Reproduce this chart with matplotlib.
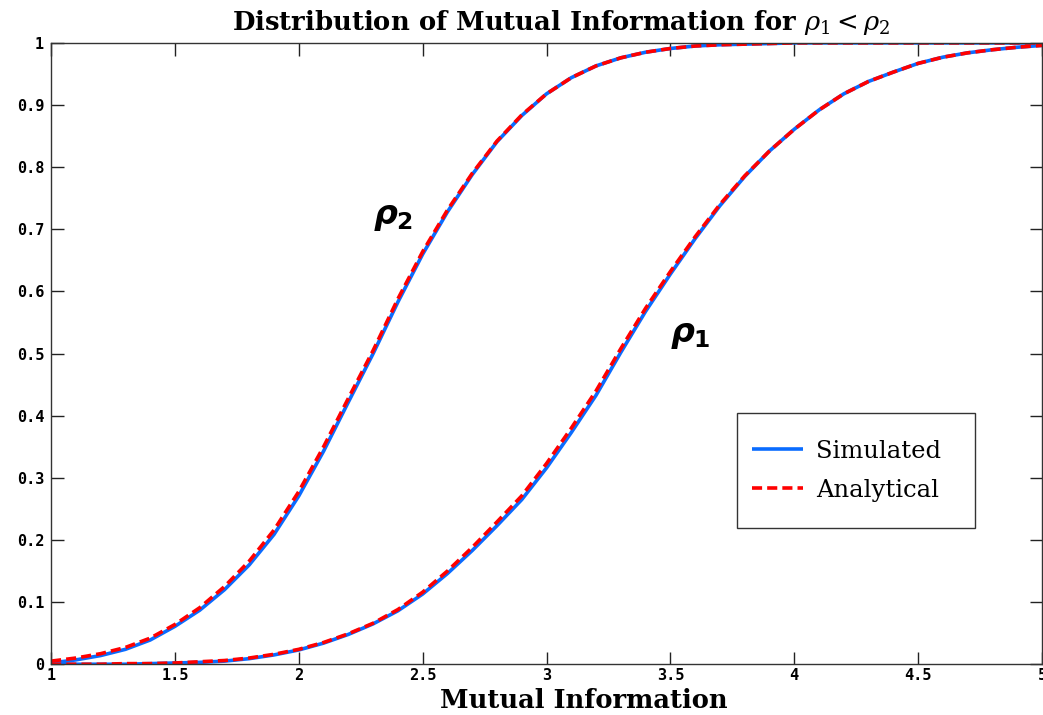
import matplotlib
matplotlib.use("Agg")
import matplotlib.pyplot as plt
from matplotlib.patches import Rectangle

plt.rcParams['mathtext.fontset'] = 'custom'
plt.rcParams['mathtext.it'] = 'DejaVu Sans:italic:bold'
plt.rcParams['mathtext.rm'] = 'DejaVu Sans:bold'
plt.rcParams['mathtext.bf'] = 'DejaVu Sans:bold'

# ---- data ----
mi = [1.0, 1.1, 1.2, 1.3, 1.4, 1.5, 1.6, 1.7, 1.8, 1.9,
      2.0, 2.1, 2.2, 2.3, 2.4, 2.5, 2.6, 2.7, 2.8, 2.9,
      3.0, 3.1, 3.2, 3.3, 3.4, 3.5, 3.6, 3.7, 3.8, 3.9,
      4.0, 4.1, 4.2, 4.3, 4.4, 4.5, 4.6, 4.7, 4.8, 4.9, 5.0]

rho2_analytical = [0.005, 0.010, 0.017, 0.027, 0.042, 0.064, 0.091, 0.125, 0.166, 0.216,
                   0.278, 0.350, 0.428, 0.505, 0.588, 0.664, 0.731, 0.790, 0.842, 0.884,
                   0.918, 0.944, 0.963, 0.976, 0.985, 0.991, 0.995, 0.997, 0.998, 0.999,
                   1.000, 1.000, 1.000, 1.000, 1.000, 1.000, 1.000, 1.000, 1.000, 1.000, 1.000]
rho2_simulated = [0.002, 0.007, 0.014, 0.024, 0.039, 0.061, 0.087, 0.120, 0.160, 0.209,
                  0.271, 0.343, 0.422, 0.500, 0.583, 0.660, 0.728, 0.788, 0.841, 0.883,
                  0.918, 0.944, 0.963, 0.976, 0.985, 0.991, 0.995, 0.997, 0.998, 0.999,
                  1.000, 1.000, 1.000, 1.000, 1.000, 1.000, 1.000, 1.000, 1.000, 1.000, 1.000]

rho1_analytical = [0.000, 0.000, 0.000, 0.001, 0.001, 0.002, 0.004, 0.006, 0.010, 0.016,
                   0.024, 0.035, 0.049, 0.066, 0.088, 0.116, 0.150, 0.188, 0.229, 0.271,
                   0.323, 0.380, 0.440, 0.508, 0.573, 0.632, 0.688, 0.740, 0.786, 0.826,
                   0.861, 0.892, 0.918, 0.938, 0.953, 0.967, 0.977, 0.984, 0.989, 0.993, 0.996]
rho1_simulated = [0.000, 0.000, 0.000, 0.000, 0.001, 0.002, 0.003, 0.005, 0.009, 0.015,
                  0.023, 0.034, 0.048, 0.065, 0.086, 0.113, 0.146, 0.183, 0.223, 0.265,
                  0.316, 0.373, 0.433, 0.502, 0.568, 0.628, 0.685, 0.738, 0.785, 0.826,
                  0.861, 0.892, 0.918, 0.938, 0.953, 0.967, 0.977, 0.984, 0.989, 0.993, 0.996]

x_ticks = [1, 1.5, 2, 2.5, 3, 3.5, 4, 4.5, 5]
x_tick_labels = ['1', '1.5', '2', '2.5', '3', '3.5', '4', '4.5', '5']
y_ticks = [0, 0.1, 0.2, 0.3, 0.4, 0.5, 0.6, 0.7, 0.8, 0.9, 1]
y_tick_labels = ['0', '0.1', '0.2', '0.3', '0.4', '0.5', '0.6', '0.7', '0.8', '0.9', '1']

BLUE = '#0a6cff'
RED = '#ff0000'
DASH = (0, (2.8, 1.4))

fig = plt.figure(figsize=(10.43, 7.15), dpi=100)
ax = fig.add_axes([0.049, 0.071, 0.950, 0.869])

ax.plot(mi, rho2_simulated, color=BLUE, lw=2.6, label='Simulated', solid_capstyle='butt')
ax.plot(mi, rho1_simulated, color=BLUE, lw=2.6, solid_capstyle='butt')
ax.plot(mi, rho2_analytical, color=RED, lw=2.6, ls=DASH, label='Analytical')
ax.plot(mi, rho1_analytical, color=RED, lw=2.6, ls=DASH)

ax.set_xlim(1, 5)
ax.set_ylim(0, 1)
ax.set_xticks(x_ticks)
ax.set_xticklabels(x_tick_labels)
ax.set_yticks(y_ticks)
ax.set_yticklabels(y_tick_labels)

ax.tick_params(direction='in', top=True, right=True, length=9, width=1, color='#222222')
ax.tick_params(axis='x', pad=3)
ax.tick_params(axis='y', pad=5)
for lab in ax.get_xticklabels() + ax.get_yticklabels():
    lab.set_family('DejaVu Sans Mono')
    lab.set_fontweight('bold')
    lab.set_fontsize(11)
for s in ax.spines.values():
    s.set_linewidth(1.0)
    s.set_color('#333333')

ax.set_title(r'Distribution of Mutual Information for $\rho_1 < \rho_2$',
             family='DejaVu Serif', fontweight='bold', fontsize=18.6, pad=9,
             x=0.515, math_fontfamily='dejavuserif')
ax.set_xlabel('Mutual Information', family='DejaVu Serif', fontweight='bold',
              fontsize=18.5)
ax.xaxis.set_label_coords(0.538, -0.038)

ax.text(2.38, 0.72, r'$\rho_2$', fontsize=24, ha='center', va='center')
ax.text(3.58, 0.53, r'$\rho_1$', fontsize=24, ha='center', va='center')

# legend frame (axes fraction) and legend content
ax.add_patch(Rectangle((0.692, 0.219), 0.240, 0.185, transform=ax.transAxes,
                       facecolor='white', edgecolor='#333333', lw=1.0, zorder=4))
leg = ax.legend(loc='center left', bbox_to_anchor=(0.7074, 0.3115), frameon=False,
                handlelength=2.1, borderpad=0.0, labelspacing=0.65,
                handletextpad=0.55, borderaxespad=0,
                prop={'family': 'DejaVu Serif', 'size': 17.5})
leg.set_zorder(5)

fig.savefig('out.png', dpi=100)
